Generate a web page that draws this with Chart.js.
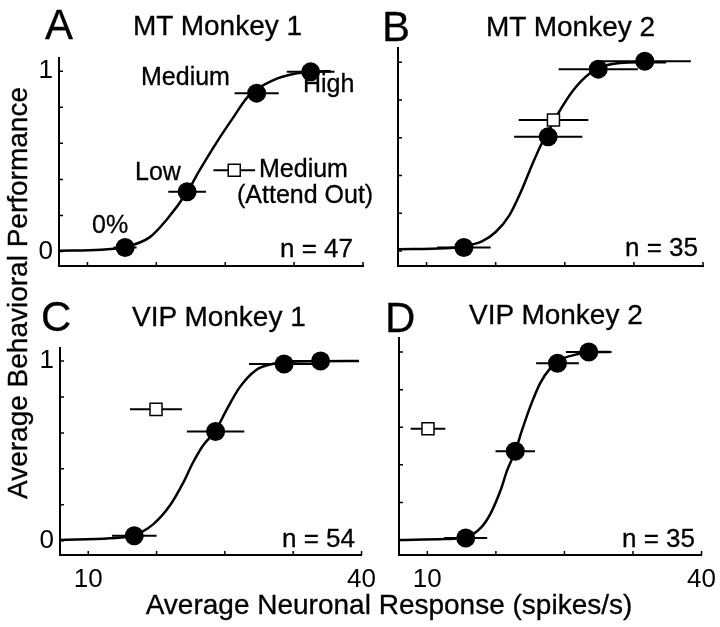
<!DOCTYPE html>
<html><head><meta charset="utf-8">
<script src="https://cdn.jsdelivr.net/npm/chart.js@4/dist/chart.umd.min.js"></script>
<style>
html,body{margin:0;padding:0;background:#fff;}
#wrap{position:relative;width:720px;height:627px;overflow:hidden;background:#fff;font-family:'Liberation Sans',Arial,Helvetica,sans-serif;color:#000;}
canvas{position:absolute;}
.t{position:absolute;white-space:nowrap;line-height:1;-webkit-text-stroke:0.3px #000;}
</style></head><body><div id="wrap"></div>
<script>
// ---------- data ----------
const xMin = 6.9, xMax = 40;
const yMin = -0.08, yMax = 1.075;
const xTickValues = [10, 17.5, 25, 32.5, 40];
const xTickLabels = ['10', '', '', '', '40'];
const yTickValues = [0, 0.2, 0.4, 0.6, 0.8, 1];
const yTickLabels = ['0', '', '', '', '', '1'];

const panelLetters = ['A', 'B', 'C', 'D'];
const panelTitles = ['MT Monkey 1', 'MT Monkey 2', 'VIP Monkey 1', 'VIP Monkey 2'];
const panelN = ['n = 47', 'n = 35', 'n = 54', 'n = 35'];
const conditionLabels = ['0%', 'Low', 'Medium', 'High'];
const attendOutLabel = ['Medium', '(Attend Out)'];
const xAxisTitle = 'Average Neuronal Response (spikes/s)';
const yAxisTitle = 'Average Behavioral Performance';

// MT Monkey 1 (attend in: 0%, Low, Medium, High)
const mt1X = [14.1, 20.85, 28.42, 34.3];
const mt1Y = [0.023, 0.332, 0.878, 0.996];
const mt1Err = [1.25, 2.05, 2.4, 2.6];
const mt1OutX = [25.98];
const mt1OutY = [0.451];
const mt1OutErr = [2.27];
const mt1CurveX = [6.9, 11.5, 14.1, 16.8, 18.6, 20.85, 22.2, 24.0, 25.9, 27.5, 30.2, 32.4, 34.3, 36.5];
const mt1CurveY = [0.005, 0.01, 0.025, 0.08, 0.175, 0.33, 0.45, 0.6, 0.745, 0.86, 0.949, 0.984, 0.997, 1.0];

// MT Monkey 2
const mt2X = [14.05, 23.2, 28.63, 33.68];
const mt2Y = [0.018, 0.605, 0.963, 1.005];
const mt2Err = [2.9, 3.7, 4.3, 5.0];
const mt2OutX = [23.77];
const mt2OutY = [0.693];
const mt2OutErr = [3.78];
const mt2CurveX = [6.9, 12.0, 14.1, 16.0, 17.5, 19.0, 20.3, 21.4, 22.4, 23.3, 24.3, 25.9, 27.7, 29.5, 33.0, 36.0];
const mt2CurveY = [0.009, 0.014, 0.025, 0.05, 0.1, 0.19, 0.32, 0.45, 0.56, 0.64, 0.73, 0.85, 0.94, 0.984, 1.0, 1.0];

// VIP Monkey 1
const vip1X = [15.05, 23.98, 31.5, 35.5];
const vip1Y = [0.027, 0.608, 0.984, 1.0];
const vip1Err = [2.45, 3.15, 3.85, 4.2];
const vip1OutX = [17.44];
const vip1OutY = [0.731];
const vip1OutErr = [2.85];
const vip1CurveX = [6.9, 12.4, 15.0, 17.15, 19.0, 20.4, 21.5, 22.6, 24.0, 25.15, 26.6, 28.4, 30.2, 33.1, 39.7];
const vip1CurveY = [0.004, 0.013, 0.03, 0.092, 0.198, 0.32, 0.435, 0.53, 0.615, 0.725, 0.852, 0.949, 0.984, 0.998, 1.0];

// VIP Monkey 2
const vip2X = [14.2, 19.62, 24.24, 27.66];
const vip2Y = [0.01, 0.472, 0.941, 1.0];
const vip2Err = [2.35, 2.16, 2.34, 2.5];
const vip2OutX = [10.07];
const vip2OutY = [0.592];
const vip2OutErr = [1.9];
const vip2CurveX = [6.9, 11.9, 14.2, 15.84, 16.9, 18.0, 18.72, 19.62, 20.35, 21.24, 22.32, 23.4, 24.84, 26.65, 27.66, 30.0];
const vip2CurveY = [0.0, 0.005, 0.014, 0.064, 0.139, 0.263, 0.369, 0.472, 0.583, 0.707, 0.832, 0.911, 0.965, 0.991, 1.0, 1.0];

// ---------- layout ----------
const wrap = document.getElementById('wrap');
Chart.defaults.font.family = "'Liberation Sans', Arial, Helvetica, sans-serif";
Chart.defaults.color = '#000';

function addText(str, x, base, size, align) {
  const d = document.createElement('div');
  d.className = 't';
  d.textContent = str;
  d.style.fontSize = size + 'px';
  d.style.top = (base - 0.8465 * size) + 'px';
  if (align === 'right') d.style.right = (720 - x) + 'px';
  else if (align === 'center') { d.style.left = x + 'px'; d.style.transform = 'translateX(-50%)'; }
  else d.style.left = x + 'px';
  wrap.appendChild(d);
  return d;
}

const inTicks = {
  id: 'inTicks',
  afterDraw(chart) {
    const { ctx, chartArea: a } = chart;
    const x = chart.scales.x, y = chart.scales.y;
    ctx.save();
    ctx.strokeStyle = '#000';
    ctx.lineWidth = 1.5;
    ctx.beginPath();
    xTickValues.forEach(v => { const p = x.getPixelForValue(v); ctx.moveTo(p, a.bottom); ctx.lineTo(p, a.bottom - 4); });
    yTickValues.forEach(v => { const p = y.getPixelForValue(v); ctx.moveTo(a.left, p); ctx.lineTo(a.left + 4, p); });
    ctx.stroke();
    ctx.restore();
  }
};

const zip = (xs, ys) => xs.map((v, i) => ({ x: v, y: ys[i] }));

function errBars(xs, ys, es) {
  return xs.map((v, i) => ({
    data: [{ x: v - es[i], y: ys[i] }, { x: v + es[i], y: ys[i] }],
    showLine: true, borderColor: '#000', borderWidth: 2, pointRadius: 0, fill: false, order: 3
  }));
}

function makePanel(box, s, showX, showY) {
  const PADL = 40, PADT = 12, PADR = 22, PADB = 44;
  const w = box.r - box.l + PADL + PADR, h = box.b - box.t + PADT + PADB;
  const c = document.createElement('canvas');
  c.width = w; c.height = h;
  c.style.left = (box.l - PADL) + 'px'; c.style.top = (box.t - PADT) + 'px';
  c.style.width = w + 'px'; c.style.height = h + 'px';
  wrap.appendChild(c);
  const datasets = [
    ...errBars(s.x, s.y, s.err),
    ...errBars(s.ox, s.oy, s.oerr),
    { data: zip(s.cx, s.cy), showLine: true, borderColor: '#000', borderWidth: 2.5, pointRadius: 0,
      cubicInterpolationMode: 'monotone', fill: false, order: 2 },
    { data: zip(s.x, s.y), showLine: false, pointRadius: 9.5, pointBackgroundColor: '#000',
      pointBorderColor: '#000', pointBorderWidth: 0, order: 1 },
    { data: zip(s.ox, s.oy), showLine: false, pointStyle: 'rect', pointRadius: 8.5, pointBackgroundColor: '#fff',
      pointBorderColor: '#000', pointBorderWidth: 1.5, order: 0 }
  ];
  new Chart(c, {
    type: 'line',
    data: { datasets },
    options: {
      responsive: false, animation: false, devicePixelRatio: 1,
      layout: { padding: { left: 0, top: PADT, right: PADR, bottom: 0 } },
      plugins: { legend: { display: false }, tooltip: { enabled: false } },
      scales: {
        x: {
          type: 'linear', min: xMin, max: xMax,
          grid: { display: false, drawTicks: false },
          border: { display: true, color: '#000', width: 2 },
          afterBuildTicks: sc => { sc.ticks = xTickValues.map(v => ({ value: v })); },
          afterFit: sc => { sc.height = PADB; },
          ticks: { display: showX, padding: 9, color: '#000', font: { size: 26 }, maxRotation: 0, autoSkip: false,
                   callback: (v, i) => xTickLabels[i] }
        },
        y: {
          type: 'linear', min: yMin, max: yMax,
          grid: { display: false, drawTicks: false },
          border: { display: true, color: '#000', width: 2 },
          afterBuildTicks: sc => { sc.ticks = yTickValues.map(v => ({ value: v })); },
          afterFit: sc => { sc.width = PADL; },
          ticks: { display: showY, padding: 6, color: '#000', font: { size: 26 }, autoSkip: false,
                   callback: (v, i) => yTickLabels[i] }
        }
      }
    },
    plugins: [inTicks]
  });
}

makePanel({ l: 59, t: 48, r: 363, b: 266 },
  { x: mt1X, y: mt1Y, err: mt1Err, ox: mt1OutX, oy: mt1OutY, oerr: mt1OutErr, cx: mt1CurveX, cy: mt1CurveY }, false, true);
makePanel({ l: 398, t: 48, r: 703, b: 266 },
  { x: mt2X, y: mt2Y, err: mt2Err, ox: mt2OutX, oy: mt2OutY, oerr: mt2OutErr, cx: mt2CurveX, cy: mt2CurveY }, false, false);
makePanel({ l: 60, t: 338, r: 363, b: 555 },
  { x: vip1X, y: vip1Y, err: vip1Err, ox: vip1OutX, oy: vip1OutY, oerr: vip1OutErr, cx: vip1CurveX, cy: vip1CurveY }, true, true);
makePanel({ l: 399, t: 338, r: 703, b: 555 },
  { x: vip2X, y: vip2Y, err: vip2Err, ox: vip2OutX, oy: vip2OutY, oerr: vip2OutErr, cx: vip2CurveX, cy: vip2CurveY }, true, false);

// panel letters and titles
addText(panelLetters[0], 45, 40, 42);
addText(panelLetters[1], 382, 42, 42);
addText(panelLetters[2], 41, 332, 42);
addText(panelLetters[3], 385, 333, 42);
addText(panelTitles[0], 133, 36, 28);
addText(panelTitles[1], 486, 37, 28);
addText(panelTitles[2], 132, 327, 28);
addText(panelTitles[3], 469, 325, 28);
addText(panelN[0], 353, 257, 26, 'right');
addText(panelN[1], 698, 256, 26, 'right');
addText(panelN[2], 355, 547, 26, 'right');
addText(panelN[3], 695, 547, 26, 'right');

// condition annotations (panel A)
addText(conditionLabels[0], 92, 233, 25);
addText(conditionLabels[1], 135, 180, 25);
addText(conditionLabels[2], 141, 85, 25);
addText(conditionLabels[3], 303, 92, 25);
addText(attendOutLabel[0], 259, 177, 25);
addText(attendOutLabel[1], 237, 203, 25);

// shared axis titles
addText(xAxisTitle, 389, 615, 28, 'center');
const yt = document.createElement('div');
yt.className = 't';
yt.textContent = yAxisTitle;
yt.style.fontSize = '28px';
yt.style.width = '500px';
yt.style.textAlign = 'center';
yt.style.left = (17.5 - 250) + 'px';
yt.style.top = (293 - 14) + 'px';
yt.style.height = '28px';
yt.style.transform = 'rotate(-90deg)';
yt.style.transformOrigin = '50% 50%';
wrap.appendChild(yt);
</script></body></html>
